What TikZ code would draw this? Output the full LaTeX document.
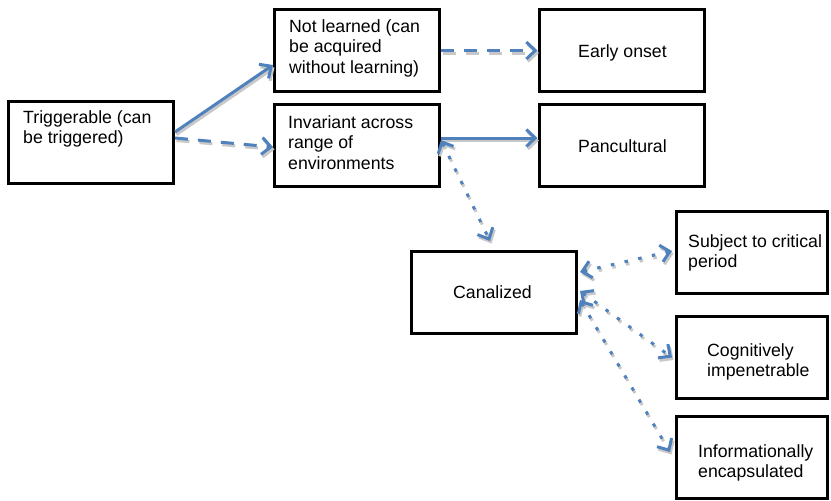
\documentclass[tikz,border=0pt]{standalone}
\usepackage{fontspec}
\setmainfont{Liberation Sans}
\usetikzlibrary{arrows.meta}
\definecolor{arrowblue}{HTML}{4F81BD}
\definecolor{shadowgrey}{HTML}{C8C8C8}
\newcommand\toplines[1]{\vtop{\baselineskip=20.5pt\halign{##\hfil\cr #1\crcr}}}
\begin{document}
\begin{tikzpicture}[x=1pt,y=-1pt,
  box/.style={draw=black,line width=3pt,fill=white,minimum width=165pt,minimum height=82pt,inner sep=0pt},
  narrowbox/.style={box,minimum width=151pt},
  txt/.style={inner sep=0pt,font=\fontsize{17.7}{20.5}\selectfont},
  conn/.style={draw=arrowblue,line width=3pt,#1,
    preaction={draw=shadowgrey,line width=3pt,#1,transform canvas={shift={(1.5pt,-2.5pt)}}}},
  conn/.default={solid},
  tipend/.style={-{Straight Barb[length=9pt,width=17pt]}},
  tipboth/.style={{Straight Barb[length=9pt,width=17pt]}-{Straight Barb[length=9pt,width=17pt]}},
  dashline/.style={dash pattern=on 13pt off 10pt},
  dotline/.style={dash pattern=on 3.5pt off 10.5pt}]
\useasboundingbox (0,0) rectangle (831,501);
\fill[white] (0,0) rectangle (831,501);
% boxes
\node[box] (T)   at (91,142)    {};
\node[box] (NL)  at (357,50.5)  {};
\node[box] (INV) at (357,145)   {};
\node[box] (EO)  at (621.5,50.5){};
\node[box] (PAN) at (621.5,145) {};
\node[box] (CAN) at (494,292.5) {};
\node[narrowbox] (SUB) at (752,252)   {};
\node[narrowbox] (COG) at (752,357.5) {};
\node[narrowbox] (INF) at (752,457)   {};
% texts
\node[txt,anchor=base west] (Tt)   at (23,123)  {\toplines{Triggerable (can\cr be triggered)}};
\node[txt,anchor=base west] (NLt)  at (289,32)  {\toplines{Not learned (can\cr be acquired\cr without learning)}};
\node[txt,anchor=base west] (INVt) at (288,128) {\toplines{Invariant across\cr range of\cr environments}};
\node[txt,anchor=base] (EOt)  at (622.5,57)  {Early onset};
\node[txt,anchor=base] (PANt) at (622.5,152) {Pancultural};
\node[txt,anchor=base] (CANt) at (492.5,298) {Canalized};
\node[txt,anchor=base west] (SUBt) at (688,247) {\toplines{Subject to critical\cr period}};
\node[txt,anchor=base west] (COGt) at (707,356) {\toplines{Cognitively\cr impenetrable}};
\node[txt,anchor=base west] (INFt) at (698,457) {\toplines{Informationally\cr encapsulated}};
% connectors
\draw[conn,tipend] ([yshift=10pt]T.east) -- ([yshift=-14.5pt]NL.west);
\draw[conn=dashline,tipend] ([yshift=4pt]T.east) -- ([yshift=-2pt]INV.west);
\draw[conn=dashline,tipend] (NL.east) -- (EO.west);
\draw[conn,tipend] ([yshift=7pt]INV.east) -- ([yshift=7pt]PAN.west);
\draw[conn=dotline,tipboth] ([yshift=5pt]INV.east) -- ([xshift=-4pt,yshift=9pt]CAN.north);
\draw[conn=dotline,tipboth] ([xshift=2pt,yshift=20.5pt]CAN.east) -- ([xshift=-3pt,yshift=1pt]SUB.west);
\draw[conn=dotline,tipboth] ([xshift=2pt,yshift=1.5pt]CAN.east) -- ([xshift=-3pt]COG.west);
\draw[conn=dotline,tipboth] ([xshift=2pt,yshift=-7.5pt]CAN.east) -- ([xshift=-5pt,yshift=5pt]INF.west);
\end{tikzpicture}
\end{document}
